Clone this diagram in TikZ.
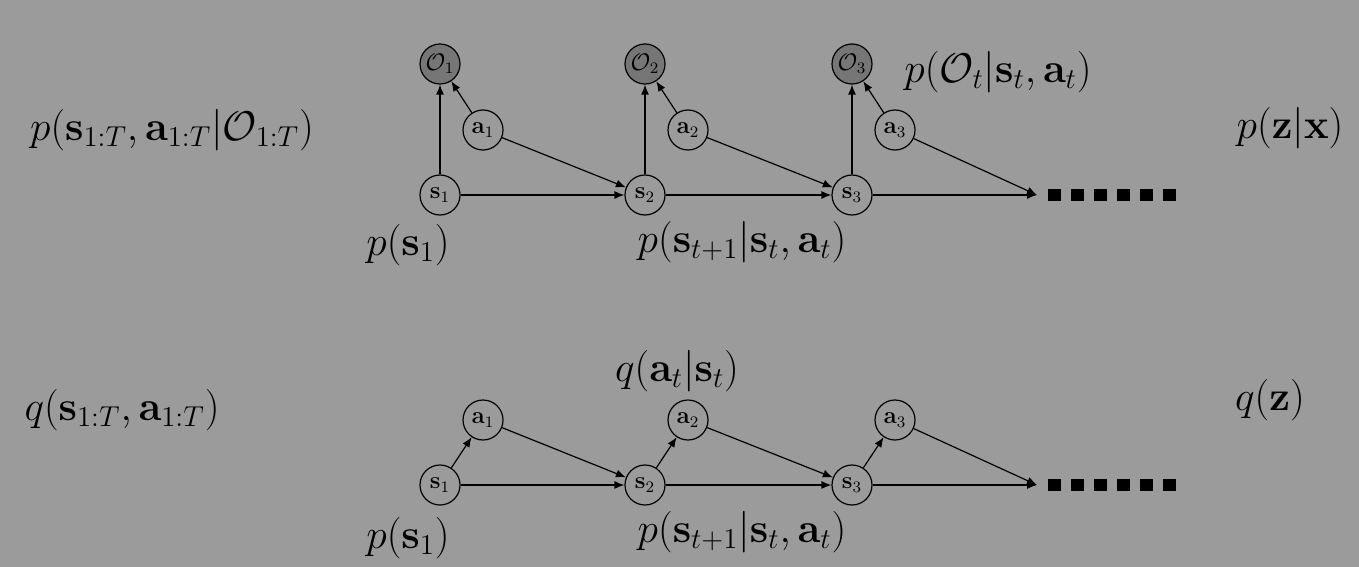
\documentclass[tikz,border=0pt]{standalone}
\usepackage{amsmath,amssymb}
\usetikzlibrary{arrows.meta}
\definecolor{bg}{RGB}{155,155,155}
\definecolor{obs}{RGB}{118,118,118}
\begin{document}
\begin{tikzpicture}[x=0.5pt,y=-0.5pt,>={Latex[length=5pt,width=4pt]},line join=round,semithick]
\tikzset{var/.style={circle,draw,semithick,inner sep=0pt,minimum size=20pt,font=\large},
  obs/.style={var,fill=obs},
  lbl/.style={font=\huge},
  more/.style={line width=6pt,dash pattern=on 6.5pt off 5pt}}
\fill[bg] (0,0) rectangle (1359,567);
% top graph
\foreach \i/\x in {1/440,2/645,3/852}{
  \node[obs] (o\i) at (\x,64) {$\mathcal{O}_\i$};
  \node[var] (a\i) at (\x+43,130) {$\mathbf{a}_\i$};
  \node[var] (s\i) at (\x,195) {$\mathbf{s}_\i$};
  \draw[->] (s\i)--(o\i);
  \draw[->] (a\i)--(o\i);
}
\coordinate (e1) at (1037,195);
\draw[->] (s1)--(s2);
\draw[->] (s2)--(s3);
\draw[->] (s3)--(e1);
\draw[->] (a1)--(s2);
\draw[->] (a2)--(s3);
\draw[->] (a3)--(e1);
\draw[more] (1048,195)--(1179,195);
\node[lbl] (l1) at (172,130) {$p(\mathbf{s}_{1:T},\mathbf{a}_{1:T}|\mathcal{O}_{1:T})$};
\node[lbl] (l2) at (998,72) {$p(\mathcal{O}_t|\mathbf{s}_t,\mathbf{a}_t)$};
\node[lbl] (l3) at (408,245) {$p(\mathbf{s}_1)$};
\node[lbl] (l4) at (742,242) {$p(\mathbf{s}_{t+1}|\mathbf{s}_t,\mathbf{a}_t)$};
\node[lbl] (l5) at (1290,128) {$p(\mathbf{z}|\mathbf{x})$};
% bottom graph
\foreach \i/\x in {1/440,2/645,3/852}{
  \node[var] (b\i) at (\x+43,420) {$\mathbf{a}_\i$};
  \node[var] (t\i) at (\x,485) {$\mathbf{s}_\i$};
  \draw[->] (t\i)--(b\i);
}
\coordinate (e2) at (1037,485);
\draw[->] (t1)--(t2);
\draw[->] (t2)--(t3);
\draw[->] (t3)--(e2);
\draw[->] (b1)--(t2);
\draw[->] (b2)--(t3);
\draw[->] (b3)--(e2);
\draw[more] (1048,485)--(1179,485);
\node[lbl] (m1) at (122,410) {$q(\mathbf{s}_{1:T},\mathbf{a}_{1:T})$};
\node[lbl] (m2) at (677,371) {$q(\mathbf{a}_t|\mathbf{s}_t)$};
\node[lbl] (m3) at (408,538) {$p(\mathbf{s}_1)$};
\node[lbl] (m4) at (742,532) {$p(\mathbf{s}_{t+1}|\mathbf{s}_t,\mathbf{a}_t)$};
\node[lbl] (m5) at (1270,400) {$q(\mathbf{z})$};
\end{tikzpicture}
\end{document}
